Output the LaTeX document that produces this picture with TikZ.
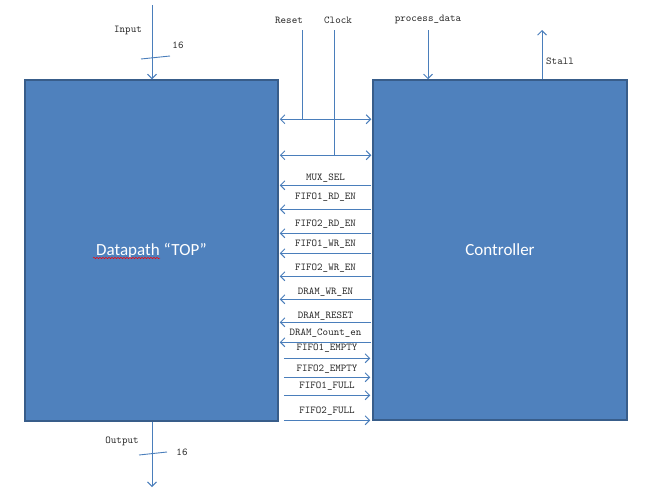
\documentclass[tikz,border=0pt]{standalone}
\usepackage{fontspec}
\setmainfont{Carlito}
\usetikzlibrary{arrows.meta, positioning, calc, decorations.pathmorphing}
\definecolor{boxblue}{HTML}{4F81BD}
\definecolor{boxedge}{HTML}{385D8A}
\definecolor{wireblue}{HTML}{4A7EBB}

\begin{document}
\begin{tikzpicture}[
    x=1pt, y=-1pt,
    block/.style={rectangle, draw=boxedge, line width=1.5pt, fill=boxblue, text=white,
                  font=\fontsize{17}{20}\selectfont},
    lbl/.style={font=\ttfamily\fontsize{10.5}{12}\selectfont, inner sep=0pt, text=black!85},
    wire/.style={wireblue, line width=0.9pt},
    arr/.style={wire, -{Straight Barb[length=4.5pt, width=9pt]}},
    barr/.style={wire, {Straight Barb[length=4.5pt, width=9pt]}-{Straight Barb[length=4.5pt, width=9pt]}},
]
    \useasboundingbox (0,0) rectangle (652,493);

    % Blocks
    \node[block, minimum width=253pt, minimum height=341pt] (dp) at (151.5,250.5) {Datapath “TOP”};
    \node[block, minimum width=254pt, minimum height=340pt] (ctrl) at (500,250) {Controller};
    \draw[red, line width=0.5pt, decorate, decoration={snake, amplitude=0.7pt, segment length=3pt}]
        (93,258) -- (160,258);

    \coordinate (d) at (dp.north east);
    \coordinate (c) at (ctrl.north west);

    % Input / Output
    \coordinate (in) at (152,5);
    \draw[arr] (in) -- (in |- dp.north);
    \draw[wire] (141,59) -- (170,56);
    \node[lbl] at (128,30) {Input};
    \node[lbl] at (178,45) {16};

    \coordinate (out) at (152,487);
    \draw[arr] (out |- dp.south) -- (out);
    \draw[wire] (139,455) -- (167,452);
    \node[lbl] at (122,441) {Output};
    \node[lbl] at (182,452) {16};

    % Reset and Clock
    \draw[barr] ($(d)+(1,40)$) coordinate (h1) -- ($(c)+(-1,40)$);
    \draw[barr] ($(d)+(1,76)$) coordinate (h2) -- ($(c)+(-1,76)$);
    \coordinate (rst) at (302,30);
    \coordinate (clk) at (334,30);
    \draw[wire] (rst) -- (rst |- h1);
    \draw[wire] (clk) -- (clk |- h2);
    \node[lbl] at (289,20) {Reset};
    \node[lbl] at (338,20) {Clock};

    % Controller inputs / outputs
    \coordinate (pd) at (428,30);
    \draw[arr] (pd) -- (pd |- ctrl.north);
    \node[lbl] at (428,19) {process\_data};
    \coordinate (st) at (542,30);
    \draw[arr] (st |- ctrl.north) -- (st);
    \node[lbl] at (560,61) {Stall};

    % Control signals
    \draw[arr] ($(c)+(-1,106)$) -- node[above=3pt, lbl]{MUX\_SEL} ($(d)+(1,106)$);
    \draw[arr] ($(c)+(-1,130)$) -- node[above=8pt, lbl]{FIFO1\_RD\_EN} ($(d)+(1,130)$);
    \draw[arr] ($(c)+(-1,154)$) -- node[above=5pt, lbl]{FIFO2\_RD\_EN} ($(d)+(1,154)$);
    \draw[arr] ($(c)+(-1,174)$) -- node[above=5pt, lbl]{FIFO1\_WR\_EN} ($(d)+(1,174)$);
    \draw[arr] ($(c)+(-1,197)$) -- node[above=4pt, lbl]{FIFO2\_WR\_EN} ($(d)+(1,197)$);
    \draw[arr] ($(c)+(-1,220)$) -- node[above=3pt, lbl]{DRAM\_WR\_EN} ($(d)+(1,220)$);
    \draw[arr] ($(c)+(-1,243)$) -- node[above=2pt, lbl]{DRAM\_RESET} ($(d)+(1,243)$);
    \draw[arr] ($(c)+(-1,263)$) -- node[above=5pt, lbl]{DRAM\_Count\_en} ($(d)+(1,263)$);

    \draw[arr] ($(d)+(5,279)$) -- node[above=6pt, lbl]{FIFO1\_EMPTY} ($(c)+(-2,279)$);
    \draw[arr] ($(d)+(5,298)$) -- node[above=4pt, lbl]{FIFO2\_EMPTY} ($(c)+(-2,298)$);
    \draw[arr] ($(d)+(5,316)$) -- node[above=5pt, lbl]{FIFO1\_FULL} ($(c)+(-2,316)$);
    \draw[arr] ($(d)+(5,341)$) -- node[above=5pt, lbl]{FIFO2\_FULL} ($(c)+(-2,341)$);

\end{tikzpicture}
\end{document}
